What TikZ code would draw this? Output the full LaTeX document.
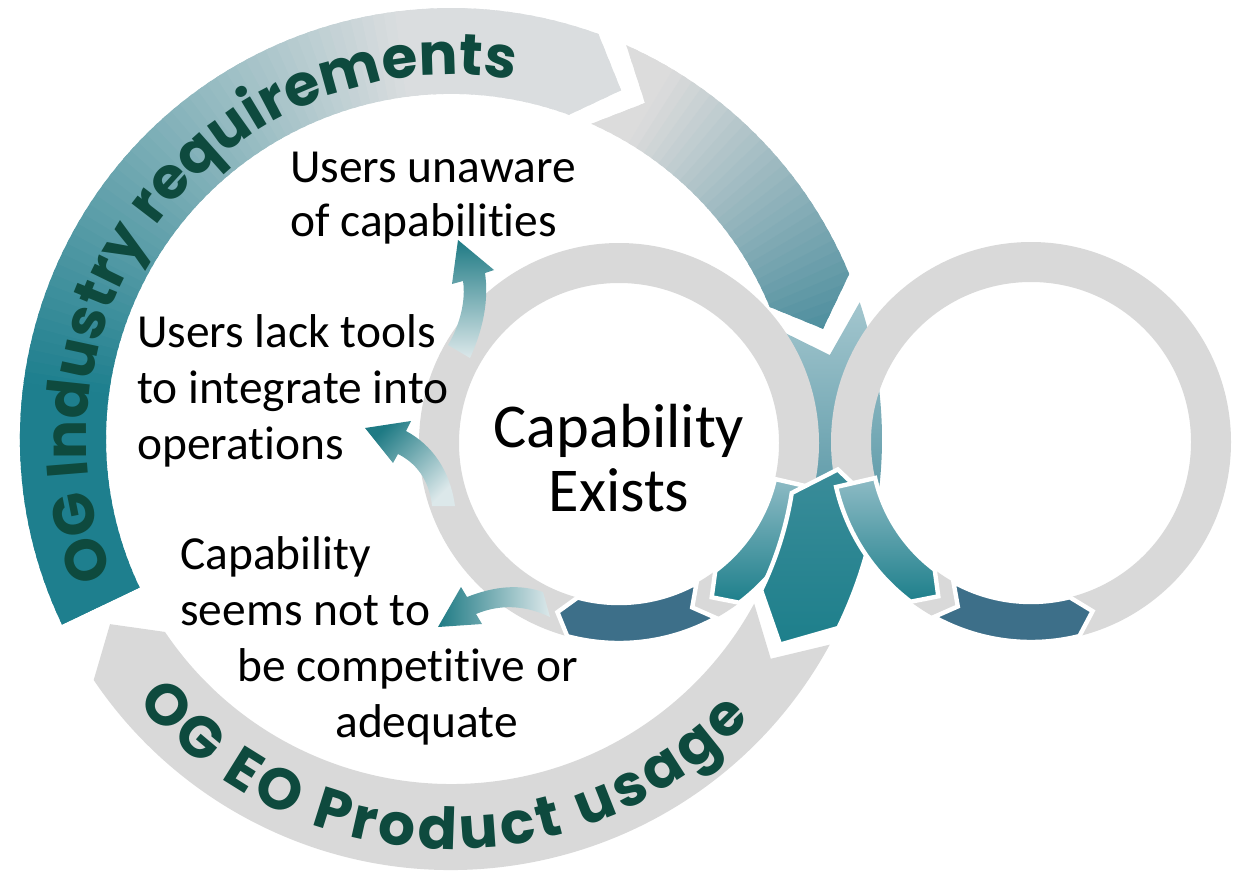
\documentclass[tikz,border=0pt]{standalone}
\usepackage{fontspec}
\setmainfont{Carlito}[Ligatures=NoCommon]
\newfontfamily\arcfont{Poppins}
\usetikzlibrary{calc,decorations.text}
\definecolor{ringgrey}{HTML}{D9D9D9}
\definecolor{tealdark}{HTML}{1E7F8E}
\definecolor{bandlight}{HTML}{DADDDF}
\definecolor{bandlightb}{HTML}{DCDCDC}
\definecolor{bandblue}{HTML}{4A8C9C}
\definecolor{stemlight}{HTML}{A3C6CE}
\definecolor{stemdark}{HTML}{5F9BA9}
\definecolor{slate}{HTML}{3D6F89}
\definecolor{flarelight}{HTML}{8EBBC5}
\definecolor{tealmain}{HTML}{1D7F8B}
\definecolor{tealtop}{HTML}{3A8C99}
\definecolor{arrdark}{HTML}{1E7A84}
\definecolor{arrlight}{HTML}{DCE8EA}
\definecolor{ogtext}{HTML}{0E4A3E}
\newcommand\arcfmt{\arcfont\bfseries\color{ogtext}\fontsize{33}{37}\selectfont}
% band segment: center, r_in, r_out, tail angle, tail point angle, head angle, tip angle
\newcommand\segp[7]{($(#1)+(#4:#2)$) -- ($(#1)+(#5:{(#2+#3)/2})$) -- ($(#1)+(#4:#3)$) arc[start angle=#4, end angle=#6, radius=#3] -- ($(#1)+(#7:{(#2+#3)/2})$) -- ($(#1)+(#6:#2)$) arc[start angle=#6, end angle=#4, radius=#2] -- cycle}
\tikzset{
  lbl/.style={font=\fontsize{27}{32}\selectfont, inner sep=0pt, anchor=base west},
  bigtxt/.style={font=\fontsize{35.5}{42}\selectfont, inner sep=0pt, anchor=base},
  topseg/.style={draw=white, line width=2.5pt, line join=miter}
}
\begin{document}
\begin{tikzpicture}[x=0.02cm,y=-0.02cm]
\useasboundingbox (0,0) rectangle (1237,879);
\coordinate (C) at (451,439);
\coordinate (L) at (619,443);
\coordinate (R) at (1031,442);

% outer band: OG Industry requirements
\begin{scope}
  \clip \segp{C}{345}{431}{154.5}{154.5}{290}{296};
  \foreach \a in {150,151.5,...,300}{
    \pgfmathsetmacro\p{max(0,min(100,(262-\a)/75*100))}
    \fill[tealdark!\p!bandlight] (C) -- ($(C)+(\a:450)$) arc[start angle=\a, end angle=\a+2.2, radius=450] -- cycle;
  }
\end{scope}
% second segment
\begin{scope}
  \clip \segp{C}{345}{431}{294}{300}{337.5}{343.5};
  \foreach \a in {292,293.5,...,346}{
    \pgfmathsetmacro\p{max(0,min(100,(\a-300)/44*100))}
    \fill[bandblue!\p!bandlightb] (C) -- ($(C)+(\a:450)$) arc[start angle=\a, end angle=\a+2.2, radius=450] -- cycle;
  }
\end{scope}
% grey usage band
\path[fill=ringgrey] \segp{C}{345}{431}{28.5}{34.5}{146}{151.5};
% stem
\path[shade, top color=stemlight, bottom color=stemdark] \segp{C}{345}{431}{341.5}{347.5}{368}{368};

% arc texts
\path[decorate, decoration={text along path, text={|\arcfmt|OG Industry requirements}, text align=fit to path}]
  ($(C)+(158:364)$) arc[start angle=158, end angle=278, radius=364];
\path[decorate, decoration={text along path, text={|\arcfmt|OG EO Product usage}, text align=fit to path}]
  ($(C)+(140:410)$) arc[start angle=140, end angle=43, radius=410];

% inner rings
\fill[ringgrey, even odd rule] (L) circle[radius=200] (L) circle[radius=160];
\fill[ringgrey, even odd rule] (R) circle[radius=200] (R) circle[radius=160];

% teal pieces on top
\path[topseg, fill=slate] \segp{L}{160}{200}{61}{66}{105}{110};
\path[topseg, fill=slate] \segp{R}{160}{200}{119}{114}{76}{70};
\path[topseg, shade, top color=flarelight, bottom color=tealmain] \segp{L}{160}{200}{13}{13}{53}{59};
\path[topseg, shade, top color=tealtop, bottom color=tealmain] \segp{C}{345}{431}{9}{4.5}{26}{32};
\path[topseg, shade, top color=flarelight, bottom color=tealmain] \segp{R}{160}{200}{167}{167}{127}{121};

% small arrows
\shade[top color=arrdark, bottom color=arrlight]
  (448,345) .. controls (460,325) and (466,300) .. (463,281) -- (452,284) -- (458,240) -- (494,270) -- (485,273)
  .. controls (489,300) and (483,330) .. (470,358) -- cycle;
\shade[top color=arrdark, bottom color=arrlight, shading angle=45]
  (432,506) .. controls (430,485) and (420,465) .. (398,454) -- (393,463) -- (365,428) -- (411,421) -- (406,431)
  .. controls (432,445) and (450,470) .. (455,506) -- cycle;
\shade[left color=arrdark, right color=arrlight]
  (543,592) .. controls (520,584) and (495,586) .. (467,597) -- (461,587) -- (438,627) -- (482,624) -- (476,614)
  .. controls (500,604) and (525,605) .. (550,617) -- cycle;

% labels
\node[lbl] (u1) at (290,182) {Users unaware};
\node[lbl] (u2) at (290,236) {of capabilities};
\node[lbl] (t1) at (137,347) {Users lack tools};
\node[lbl] (t2) at (137,403) {to integrate into};
\node[lbl] (t3) at (137,459) {operations};
\node[bigtxt] (ce1) at (619,447) {Capability};
\node[bigtxt] (ce2) at (619,511) {Exists};
\node[lbl] (s1) at (180,569) {Capability};
\node[lbl] (s2) at (180,625) {seems not to};
\node[lbl] (s3) at (237,681) {be competitive or};
\node[lbl] (s4) at (335,737) {adequate};
\end{tikzpicture}
\end{document}
